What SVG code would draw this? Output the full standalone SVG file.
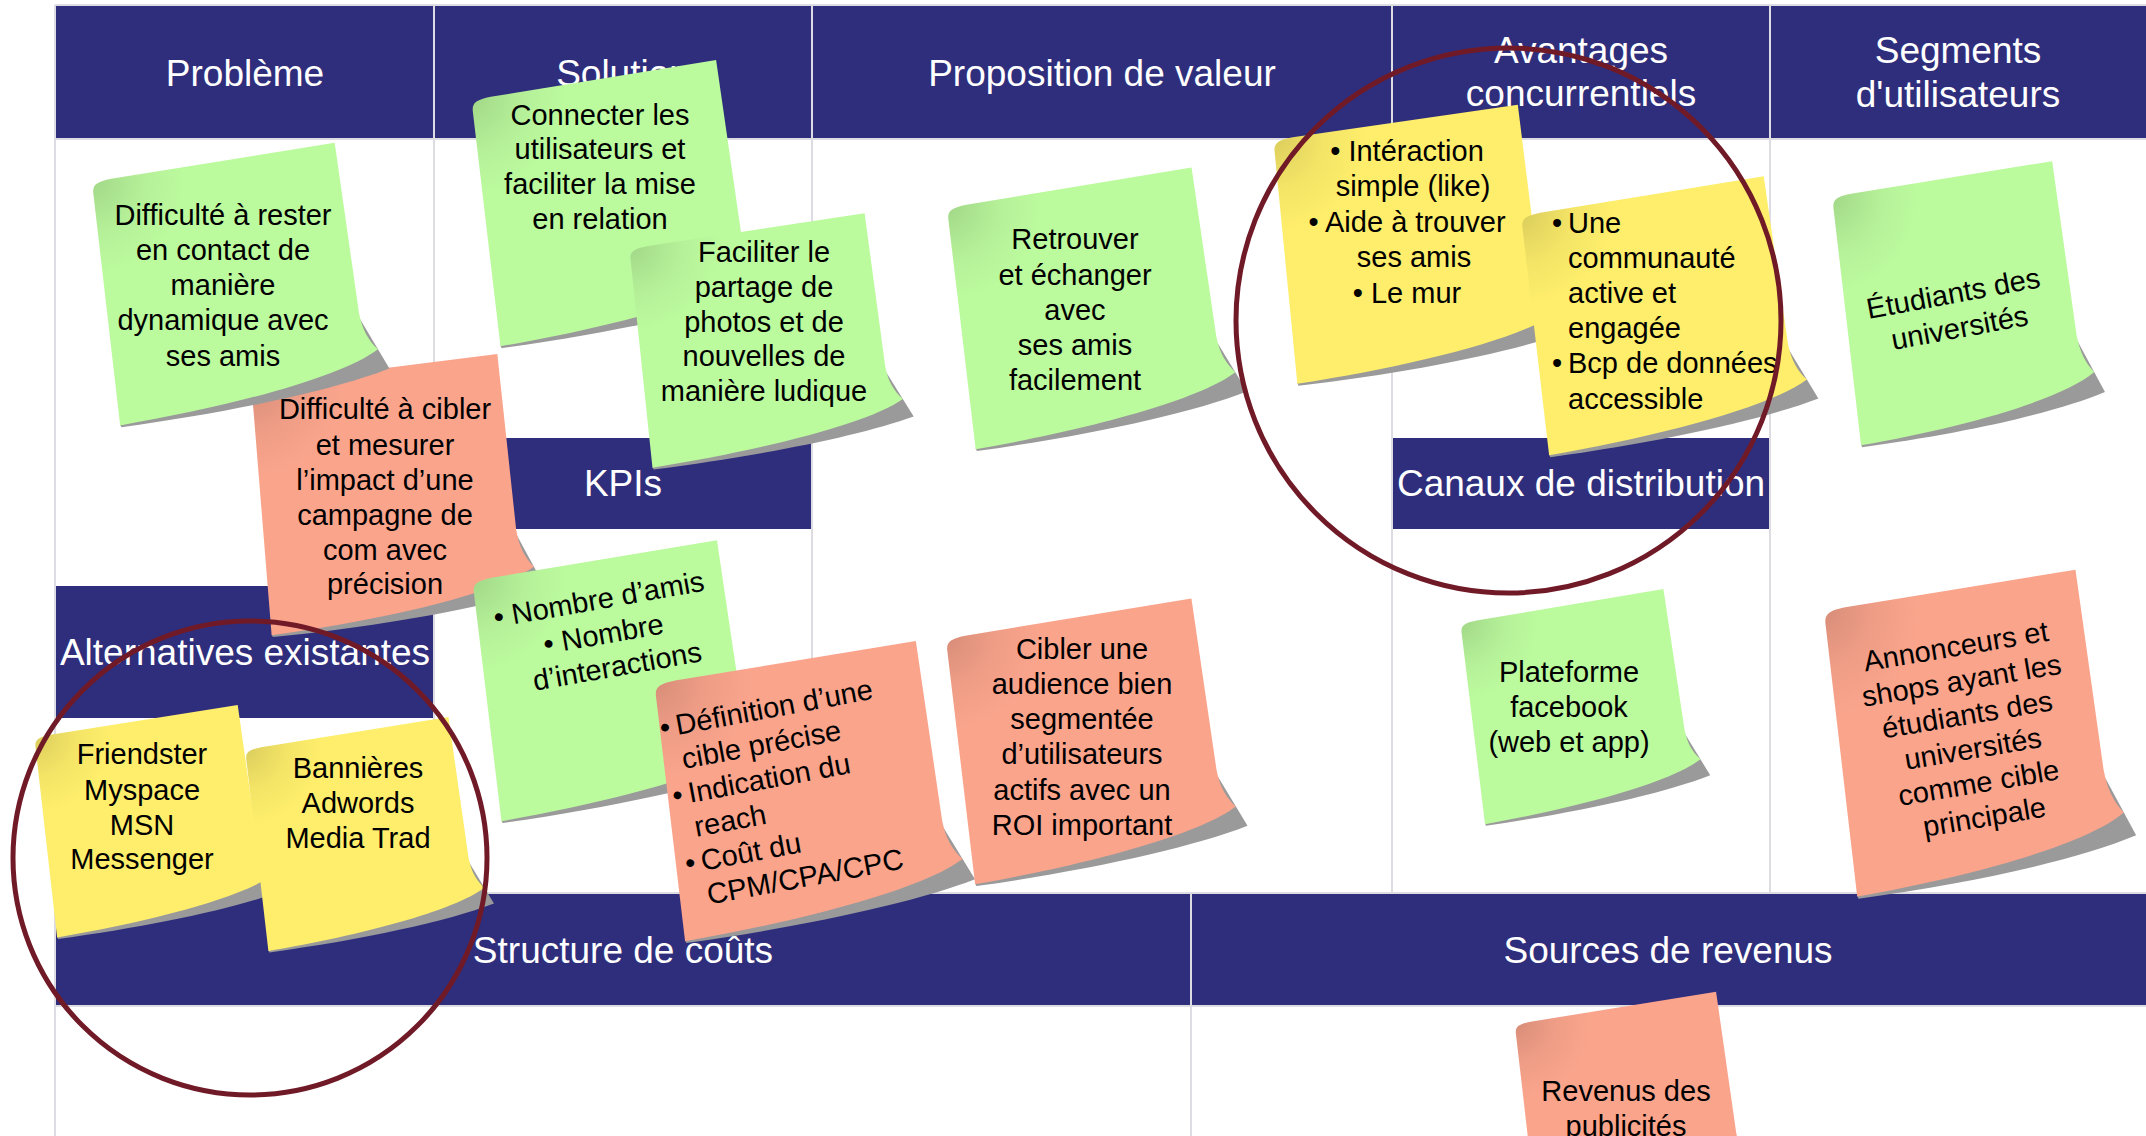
<svg xmlns="http://www.w3.org/2000/svg" xmlns:xlink="http://www.w3.org/1999/xlink" width="2146" height="1136" viewBox="0 0 2146 1136">
<style>
.band{fill:#2f2e7c}
.grid{stroke:#dcdce2;stroke-width:2;fill:none}
.hd{font-family:"Liberation Sans",Arial,sans-serif;font-size:37px;fill:#fff;text-anchor:middle}
.nt{font-family:"Liberation Sans",Arial,sans-serif;font-size:29px;fill:#000}
.c{text-anchor:middle}
.green{fill:#bcfa9e}
.salmon{fill:#faa48c}
.yellow{fill:#feee6b}
.ring{fill:none;stroke:#711a27;stroke-width:5}
</style>
<defs>
<path id="body" d="M0,13 C0.5,5 5,2.5 20,1.5 L250,-4 L251,170 C252,188 257,199 265,209 C225,232 110,246 -5,250 Z"/>
<path id="shadow" fill="#9a9a9a" d="M251,176 L274,230 C215,244 110,252 -4,252 L-5,249 Z"/>
<radialGradient id="curl" gradientUnits="userSpaceOnUse" cx="0" cy="0" r="95">
<stop offset="0" stop-color="#000" stop-opacity="0.14"/>
<stop offset="0.55" stop-color="#000" stop-opacity="0.04"/>
<stop offset="1" stop-color="#000" stop-opacity="0"/>
</radialGradient>
</defs>
<rect x="0" y="0" width="2146" height="1136" fill="#fff"/>
<g id="canvas">
<rect class="band" x="56" y="6" width="2090" height="132"/>
<rect class="band" x="434" y="438" width="378" height="91"/>
<rect class="band" x="1392" y="438" width="378" height="91"/>
<rect class="band" x="56" y="586" width="378" height="132"/>
<rect class="band" x="56" y="894" width="2090" height="112"/>
<path class="grid" d="M55,5 H2146 M55,5 V1136 M434,5 V893 M812,5 V893 M1392,5 V893 M1770,5 V893 M55,139 H2146 M55,893 H2146 M55,1006 H2146 M1191,893 V1136"/>
<text class="hd" x="245" y="86">Problème</text>
<text class="hd" x="623" y="86">Solution</text>
<text class="hd" x="1102" y="86">Proposition de valeur</text>
<text class="hd" x="1581" y="63">Avantages</text>
<text class="hd" x="1581" y="106">concurrentiels</text>
<text class="hd" x="1958" y="63">Segments</text>
<text class="hd" x="1958" y="107">d'utilisateurs</text>
<text class="hd" x="623" y="496">KPIs</text>
<text class="hd" x="1581" y="496">Canaux de distribution</text>
<text class="hd" x="245" y="665">Alternatives existantes</text>
<text class="hd" x="623" y="963">Structure de coûts</text>
<text class="hd" x="1668" y="963">Sources de revenus</text>
</g>
<g id="connectors"/>
<g id="note-cibler-mesurer">
<g transform="translate(251,383) rotate(-5.8) scale(0.992,1.012)"><use href="#shadow"/><use href="#body" class="salmon"/><use href="#body" fill="url(#curl)"/></g>
<text class="nt c" x="385" y="419">Difficulté à cibler</text>
<text class="nt c" x="385" y="455">et mesurer</text>
<text class="nt c" x="385" y="490">l’impact d’une</text>
<text class="nt c" x="385" y="525">campagne de</text>
<text class="nt c" x="385" y="560">com avec</text>
<text class="nt c" x="385" y="594">précision</text>
</g>
<g id="note-probleme">
<g transform="translate(91.5,180) rotate(-7.8) scale(0.984,0.988)"><use href="#shadow"/><use href="#body" class="green"/><use href="#body" fill="url(#curl)"/></g>
<text class="nt c" x="223" y="225">Difficulté à rester</text>
<text class="nt c" x="223" y="260">en contact de</text>
<text class="nt c" x="223" y="295">manière</text>
<text class="nt c" x="223" y="330">dynamique avec</text>
<text class="nt c" x="223" y="366">ses amis</text>
</g>
<g id="note-connecter">
<g transform="translate(471,98) rotate(-7.9) scale(0.992,1)"><use href="#shadow"/><use href="#body" class="green"/><use href="#body" fill="url(#curl)"/></g>
<text class="nt c" x="600" y="124.5">Connecter les</text>
<text class="nt c" x="600" y="159">utilisateurs et</text>
<text class="nt c" x="600" y="194">faciliter la mise</text>
<text class="nt c" x="600" y="229">en relation</text>
</g>
<g id="note-faciliter">
<g transform="translate(629,247) rotate(-7.3) scale(0.952,0.888)"><use href="#shadow"/><use href="#body" class="green"/><use href="#body" fill="url(#curl)"/></g>
<text class="nt c" x="764" y="262">Faciliter le</text>
<text class="nt c" x="764" y="297">partage de</text>
<text class="nt c" x="764" y="332">photos et de</text>
<text class="nt c" x="764" y="366">nouvelles de</text>
<text class="nt c" x="764" y="401">manière ludique</text>
</g>
<g id="note-kpi-nombre">
<g transform="translate(472,579) rotate(-8.1) scale(0.992,0.976)"><use href="#shadow"/><use href="#body" class="green"/><use href="#body" fill="url(#curl)"/></g>
<g transform="translate(600.6,609) rotate(-10)">
<text class="nt c" x="0" y="0">• Nombre d’amis</text>
<text class="nt c" x="-1.6" y="35">• Nombre</text>
<text class="nt c" x="6.3" y="69">d’interactions</text>
</g>
</g>
<g id="note-kpi-definition">
<g transform="translate(654,682) rotate(-8) scale(1.06,1.044)"><use href="#shadow"/><use href="#body" class="salmon"/><use href="#body" fill="url(#curl)"/></g>
<g transform="translate(677.5,735) rotate(-10.5)">
<text class="nt" x="-16" y="0">•</text>
<text class="nt" x="0" y="0">Définition d’une</text>
<text class="nt" x="0" y="34.5">cible précise</text>
<text class="nt" x="-16" y="69">•</text>
<text class="nt" x="0" y="69">Indication du</text>
<text class="nt" x="0" y="103.5">reach</text>
<text class="nt" x="-16" y="138">•</text>
<text class="nt" x="0" y="138">Coût du</text>
<text class="nt" x="0" y="172.5">CPM/CPA/CPC</text>
</g>
</g>
<g id="note-retrouver">
<g transform="translate(946.5,206) rotate(-8) scale(0.992,0.98)"><use href="#shadow"/><use href="#body" class="green"/><use href="#body" fill="url(#curl)"/></g>
<text class="nt c" x="1075" y="249">Retrouver</text>
<text class="nt c" x="1075" y="285">et échanger</text>
<text class="nt c" x="1075" y="320">avec</text>
<text class="nt c" x="1075" y="354.5">ses amis</text>
<text class="nt c" x="1075" y="390">facilement</text>
</g>
<g id="note-cibler-audience">
<g transform="translate(945.4,637) rotate(-8) scale(0.996,0.996)"><use href="#shadow"/><use href="#body" class="salmon"/><use href="#body" fill="url(#curl)"/></g>
<text class="nt c" x="1082" y="659">Cibler une</text>
<text class="nt c" x="1082" y="694">audience bien</text>
<text class="nt c" x="1082" y="729">segmentée</text>
<text class="nt c" x="1082" y="764">d’utilisateurs</text>
<text class="nt c" x="1082" y="799.5">actifs avec un</text>
<text class="nt c" x="1082" y="834.5">ROI important</text>
</g>
<g id="note-interaction">
<g transform="translate(1273,138) rotate(-6.8) scale(0.988,0.988)"><use href="#shadow"/><use href="#body" class="yellow"/><use href="#body" fill="url(#curl)"/></g>
<text class="nt c" x="1407" y="161">• Intéraction</text>
<text class="nt c" x="1413" y="196">simple (like)</text>
<text class="nt c" x="1407" y="232">• Aide à trouver</text>
<text class="nt c" x="1414" y="266.5">ses amis</text>
<text class="nt c" x="1407" y="302.5">• Le mur</text>
</g>
<g id="note-communaute">
<g transform="translate(1520.6,214) rotate(-7.9) scale(0.984,0.972)"><use href="#shadow"/><use href="#body" class="yellow"/><use href="#body" fill="url(#curl)"/></g>
<text class="nt" x="1552" y="233">•</text>
<text class="nt" x="1568" y="233">Une</text>
<text class="nt" x="1568" y="268">communauté</text>
<text class="nt" x="1568" y="303">active et</text>
<text class="nt" x="1568" y="338.3">engagée</text>
<text class="nt" x="1552" y="373">•</text>
<text class="nt" x="1568" y="373">Bcp de données</text>
<text class="nt" x="1568" y="408.7">accessible</text>
</g>
<g id="note-etudiants">
<g transform="translate(1831.7,195) rotate(-7.7) scale(0.892,1.008)"><use href="#shadow"/><use href="#body" class="green"/><use href="#body" fill="url(#curl)"/></g>
<g transform="translate(1955,303) rotate(-10.5)">
<text class="nt c" x="0" y="0">Étudiants des</text>
<text class="nt c" x="0" y="35">universités</text>
</g>
</g>
<g id="note-plateforme">
<g transform="translate(1460,621.7) rotate(-8.2) scale(0.824,0.816)"><use href="#shadow"/><use href="#body" class="green"/><use href="#body" fill="url(#curl)"/></g>
<text class="nt c" x="1569" y="682">Plateforme</text>
<text class="nt c" x="1569" y="717">facebook</text>
<text class="nt c" x="1569" y="752">(web et app)</text>
</g>
<g id="note-annonceurs">
<g transform="translate(1823.4,608.4) rotate(-7.7) scale(1.02,1.16)"><use href="#shadow"/><use href="#body" class="salmon"/><use href="#body" fill="url(#curl)"/></g>
<g transform="translate(1957.4,656) rotate(-9.5)">
<text class="nt c" x="0" y="0">Annonceurs et</text>
<text class="nt c" x="0" y="34.6">shops ayant les</text>
<text class="nt c" x="0" y="69.2">étudiants des</text>
<text class="nt c" x="0" y="103.8">universités</text>
<text class="nt c" x="0" y="138.4">comme cible</text>
<text class="nt c" x="0" y="173">principale</text>
</g>
</g>
<g id="note-friendster">
<g transform="translate(34,735.7) rotate(-7.7) scale(0.824,0.812)"><use href="#shadow"/><use href="#body" class="yellow"/><use href="#body" fill="url(#curl)"/></g>
<text class="nt c" x="142" y="764">Friendster</text>
<text class="nt c" x="142" y="799.6">Myspace</text>
<text class="nt c" x="142" y="834.6">MSN</text>
<text class="nt c" x="142" y="869">Messenger</text>
</g>
<g id="note-bannieres">
<g transform="translate(244.8,748.3) rotate(-7.8) scale(0.824,0.816)"><use href="#shadow"/><use href="#body" class="yellow"/><use href="#body" fill="url(#curl)"/></g>
<text class="nt c" x="358" y="777.6">Bannières</text>
<text class="nt c" x="358" y="812.5">Adwords</text>
<text class="nt c" x="358" y="848">Media Trad</text>
</g>
<g id="note-revenus">
<g transform="translate(1514.4,1022.7) rotate(-7.8) scale(0.816,0.82)"><use href="#shadow"/><use href="#body" class="salmon"/><use href="#body" fill="url(#curl)"/></g>
<text class="nt c" x="1626" y="1100.6">Revenus des</text>
<text class="nt c" x="1626" y="1135.5">publicités</text>
</g>
<g id="annotations">
<ellipse class="ring" cx="1508.5" cy="320.5" rx="272.5" ry="272.5"/>
<ellipse class="ring" cx="250" cy="858" rx="237" ry="237"/>
</g>
</svg>
